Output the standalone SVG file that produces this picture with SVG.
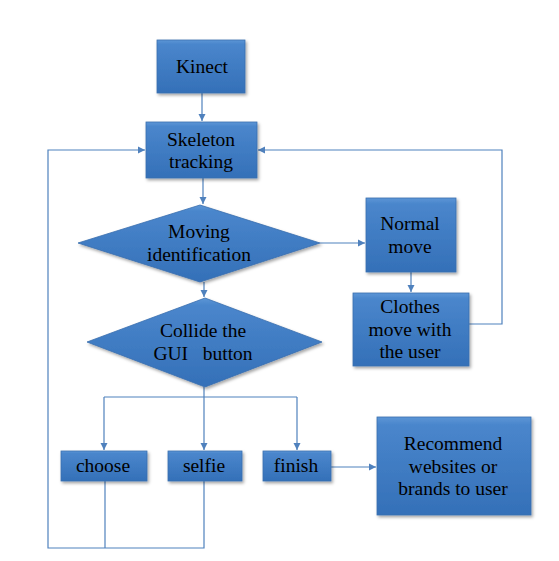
<svg xmlns="http://www.w3.org/2000/svg" width="559" height="561" viewBox="0 0 559 561">
<style>
.box{fill:url(#g);stroke:#3a6fae;stroke-width:0.8;filter:url(#sh)}
text{font-family:'Liberation Serif',serif;font-size:19.5px;fill:#000;text-anchor:middle;white-space:pre}
.c{fill:none;stroke:#4f81bd;stroke-width:1.2}
</style>
<defs>
<linearGradient id="g" x1="0" y1="0" x2="0" y2="1">
<stop offset="0" stop-color="#5c96d6"/>
<stop offset="0.08" stop-color="#4a86cc"/>
<stop offset="1" stop-color="#3470b8"/>
</linearGradient>
<filter id="sh" x="-10%" y="-10%" width="125%" height="130%">
<feDropShadow dx="1.5" dy="2" stdDeviation="1.5" flood-color="#000" flood-opacity="0.35"/>
</filter>
<marker id="a" markerWidth="8" markerHeight="8" refX="7" refY="4" orient="auto" markerUnits="userSpaceOnUse">
<path d="M0,0.5 L7,4 L0,7.5 Z" fill="#4f81bd"/>
</marker>
</defs>
<g id="connectors">
<path class="c" d="M202,93 V121" marker-end="url(#a)"/>
<path class="c" d="M203,178 V204" marker-end="url(#a)"/>
<path class="c" d="M320,243 H365" marker-end="url(#a)"/>
<path class="c" d="M411,272 V292" marker-end="url(#a)"/>
<path class="c" d="M469,324 H502 V150 H258" marker-end="url(#a)"/>
<path class="c" d="M204,282 V297" marker-end="url(#a)"/>
<path class="c" d="M204,387 V450" marker-end="url(#a)"/>
<path class="c" d="M104,397 H297"/>
<path class="c" d="M104,397 V450" marker-end="url(#a)"/>
<path class="c" d="M297,397 V450" marker-end="url(#a)"/>
<path class="c" d="M331,467 H376" marker-end="url(#a)"/>
<path class="c" d="M105,481 V548"/>
<path class="c" d="M204,481 V548 H48 V150 H145" marker-end="url(#a)"/>
</g>
<g id="kinect"><rect class="box" x="157" y="40" width="88" height="53"/><text x="202" y="73" font-family="Liberation Serif">Kinect</text></g>
<g id="skeleton"><rect class="box" x="146" y="122" width="111" height="56"/><text x="201" y="146">Skeleton</text><text x="201" y="168">tracking</text></g>
<g id="moving"><polygon class="box" points="200,205 320,243 200,282 78,243"/><text x="199" y="238">Moving</text><text x="199" y="261">identification</text></g>
<g id="collide"><polygon class="box" points="205,298 322,342 205,387 87,342"/><text x="203" y="337">Collide the</text><text x="203" y="360">GUI   button</text></g>
<g id="normal"><rect class="box" x="366" y="198" width="90" height="74"/><text x="410" y="230">Normal</text><text x="410" y="253">move</text></g>
<g id="clothes"><rect class="box" x="353" y="293" width="116" height="73"/><text x="410" y="313">Clothes</text><text x="410" y="336">move with</text><text x="410" y="358">the user</text></g>
<g id="choose"><rect class="box" x="61" y="451" width="86" height="30"/><text x="103" y="472">choose</text></g>
<g id="selfie"><rect class="box" x="168" y="451" width="74" height="30"/><text x="204" y="472">selfie</text></g>
<g id="finish"><rect class="box" x="263" y="451" width="68" height="30"/><text x="296" y="472">finish</text></g>
<g id="recommend"><rect class="box" x="377" y="417" width="154" height="98"/><text x="453" y="450">Recommend</text><text x="453" y="473">websites or</text><text x="453" y="495">brands to user</text></g>
</svg>
